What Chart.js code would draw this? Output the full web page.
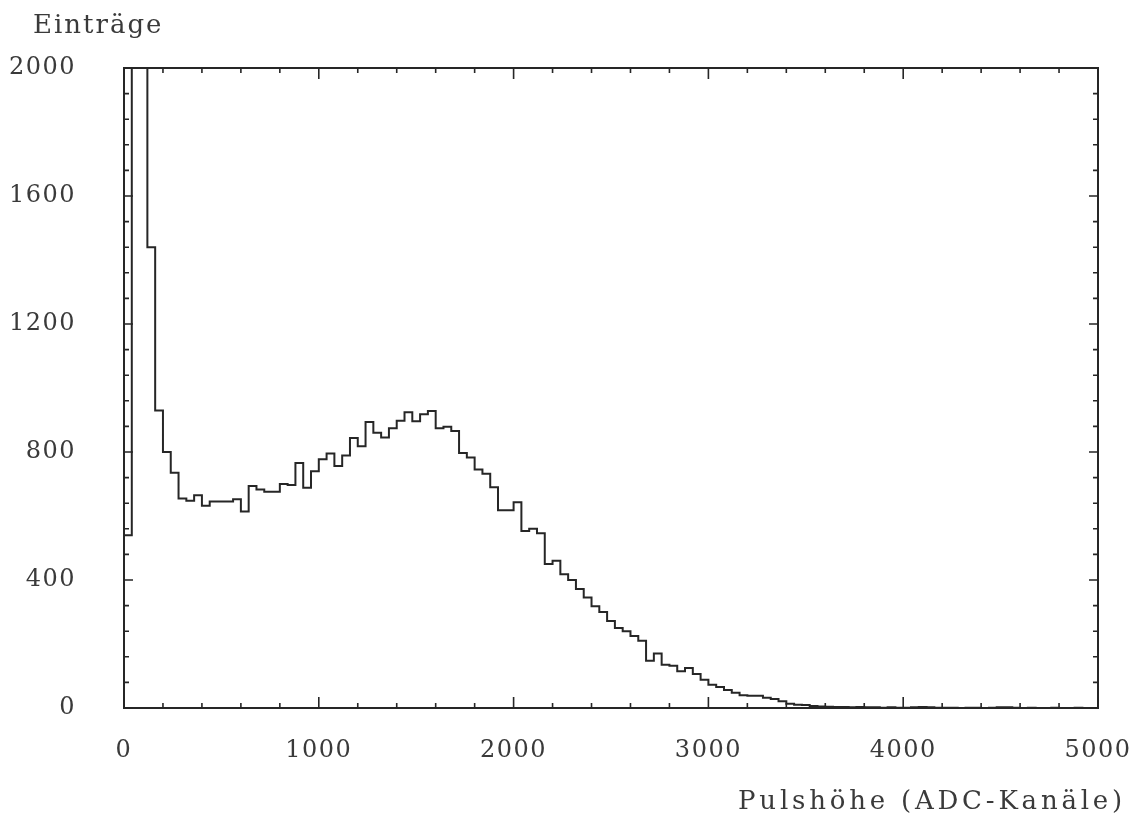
<!DOCTYPE html>
<html lang="de">
<head>
<meta charset="utf-8">
<title>Pulshöhenspektrum</title>
<script src="https://cdn.jsdelivr.net/npm/chart.js@4.4.1/dist/chart.umd.min.js"></script>
<style>
  html, body { margin: 0; padding: 0; background: #fff; }
  #wrap { position: relative; width: 1132px; height: 820px; }
</style>
</head>
<body>
<div id="wrap"><canvas id="spektrum" width="1132" height="820"></canvas></div>
<script>
// Pulshöhenspektrum: Einträge pro Bin, Binbreite 40 ADC-Kanäle, 0..5000
const binWidth = 40;
const counts = [
    540, 4500, 3200, 1440, 930, 800, 735, 655, 648, 665,
    632, 645, 645, 645, 652, 614, 694, 683, 676, 676,
    700, 697, 766, 688, 740, 777, 795, 756, 789, 844,
    818, 894, 860, 845, 874, 898, 924, 896, 918, 928,
    874, 879, 866, 797, 783, 745, 732, 690, 618, 618,
    643, 553, 560, 546, 450, 460, 418, 400, 372, 345,
    318, 300, 272, 250, 240, 225, 210, 148, 170, 135,
    132, 115, 125, 106, 88, 73, 66, 56, 48, 40,
    38, 38, 32, 28, 21, 13, 10, 9, 6, 5,
    4, 3, 3, 2, 3, 2, 2, 1, 2, 1,
    1, 2, 3, 2, 1, 1, 1, 0, 1, 1,
    0, 1, 2, 2, 1, 0, 1, 0, 0, 1,
    0, 0, 1, 0, 0
];
const xTicks = [0, 1000, 2000, 3000, 4000, 5000];
const yTicks = [0, 400, 800, 1200, 1600, 2000];
const xMinorStep = 200;
const yMinorStep = 80;
const yTitle = 'Einträge';
const xTitle = 'Pulshöhe (ADC-Kanäle)';

const ink = '#262626';
const textColor = '#3a3a3a';
const fontFamily = '"DejaVu Serif", "Liberation Serif", serif';

// stepped line: jeder Punkt sitzt am linken Rand seines Bins
const histPoints = counts.map((c, i) => ({ x: i * binWidth, y: c }));
histPoints.push({ x: counts.length * binWidth, y: counts[counts.length - 1] });

// Rahmen mit nach innen zeigenden Strichen + Achsenbeschriftungen
const framePlugin = {
    id: 'frame',
    beforeDraw(chart) {
        chart.ctx.letterSpacing = '1.5px';
    },
    afterDraw(chart) {
        const { ctx, chartArea: a, scales: { x, y } } = chart;
        ctx.save();
        ctx.strokeStyle = ink;
        ctx.lineWidth = 2;
        ctx.strokeRect(a.left, a.top, a.right - a.left, a.bottom - a.top);

        ctx.lineWidth = 1.6;
        ctx.beginPath();
        for (let v = x.min; v <= x.max; v += xMinorStep) {
            const px = x.getPixelForValue(v);
            const len = xTicks.includes(v) ? 11 : 5;
            ctx.moveTo(px, a.bottom); ctx.lineTo(px, a.bottom - len);
            ctx.moveTo(px, a.top); ctx.lineTo(px, a.top + len);
        }
        for (let v = y.min; v <= y.max; v += yMinorStep) {
            const py = y.getPixelForValue(v);
            const len = yTicks.includes(v) ? 9 : 5;
            ctx.moveTo(a.left, py); ctx.lineTo(a.left + len, py);
            ctx.moveTo(a.right, py); ctx.lineTo(a.right - len, py);
        }
        ctx.stroke();

        ctx.fillStyle = textColor;
        ctx.font = '26px ' + fontFamily;
        ctx.textBaseline = 'alphabetic';
        ctx.letterSpacing = '2px';
        ctx.textAlign = 'left';
        ctx.fillText(yTitle, 33, 33);
        ctx.letterSpacing = '3.8px';
        ctx.textAlign = 'right';
        ctx.fillText(xTitle, 1126, 809);
        ctx.restore();
        ctx.letterSpacing = '0px';
    }
};

const ctx = document.getElementById('spektrum').getContext('2d');
new Chart(ctx, {
    type: 'line',
    data: {
        datasets: [{
            data: histPoints,
            stepped: true,
            borderColor: ink,
            borderWidth: 2,
            pointRadius: 0,
            fill: false
        }]
    },
    options: {
        responsive: false,
        animation: false,
        layout: { padding: { left: 0, top: 68, right: 34, bottom: 0 } },
        plugins: { legend: { display: false }, tooltip: { enabled: false } },
        scales: {
            x: {
                type: 'linear',
                min: 0,
                max: 5000,
                grid: { display: false },
                border: { display: false },
                afterBuildTicks: s => { s.ticks = xTicks.map(v => ({ value: v })); },
                afterFit: s => {
                    s.height = 112;
                    s.paddingLeft = 0; s.paddingRight = 0;
                },
                ticks: {
                    color: textColor,
                    font: { family: fontFamily, size: 24 },
                    padding: 20,
                    maxRotation: 0,
                    autoSkip: false,
                    callback: v => String(v)
                }
            },
            y: {
                min: 0,
                max: 2000,
                grid: { display: false },
                border: { display: false },
                afterBuildTicks: s => { s.ticks = yTicks.map(v => ({ value: v })); },
                afterFit: s => {
                    s.width = 124;
                    s.paddingTop = 0; s.paddingBottom = 0;
                },
                ticks: {
                    color: textColor,
                    font: { family: fontFamily, size: 24 },
                    padding: 40,
                    callback: v => String(v)
                }
            }
        }
    },
    plugins: [framePlugin]
});
</script>
</body>
</html>
